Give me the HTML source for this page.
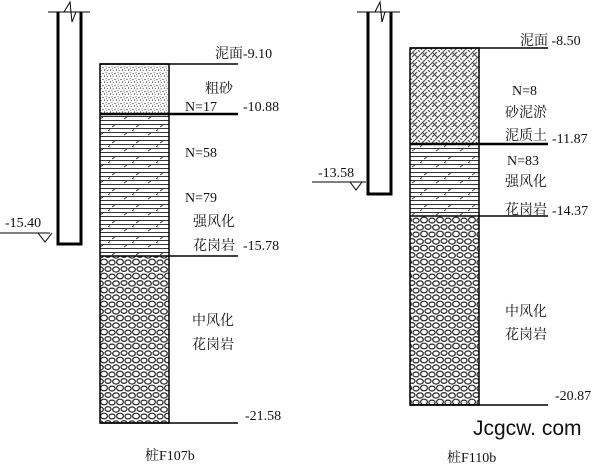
<!DOCTYPE html>
<html><head><meta charset="utf-8"><style>
html,body{margin:0;padding:0;background:#fff}
svg{display:block}
text{font-family:"Liberation Serif","Noto Serif CJK SC",serif;font-size:14px;fill:#111}
</style></head><body>
<svg width="600" height="468" viewBox="0 0 600 468" xmlns="http://www.w3.org/2000/svg">
<defs>
<pattern id="sand" width="6" height="6" patternUnits="userSpaceOnUse">
<rect width="6" height="6" fill="#fff"/>
<circle cx="1" cy="1.5" r="0.6" fill="#222"/><circle cx="4" cy="0.8" r="0.5" fill="#222"/>
<circle cx="2.5" cy="4" r="0.6" fill="#222"/><circle cx="5.2" cy="4.6" r="0.5" fill="#222"/>
<circle cx="4.5" cy="2.7" r="0.4" fill="#222"/>
</pattern>
<pattern id="lines" width="24" height="16" patternUnits="userSpaceOnUse">
<rect width="24" height="16" fill="#fff"/>
<path d="M0 0.5H24M0 4.5H24M0 8.5H24M0 12.5H24" stroke="#333" stroke-width="1"/>
<path d="M4 7L7 5M16 15L19 13M12 3L14 1.5" stroke="#333" stroke-width="0.8"/>
</pattern>
<pattern id="weave" width="10" height="10" patternUnits="userSpaceOnUse">
<rect width="10" height="10" fill="#fff"/>
<path d="M0 5L5 0M2 7L7 2M5 10L10 5M3 3L8 8M0 8L2 10M8 0L10 2" stroke="#444" stroke-width="1.1"/>
</pattern>
<pattern id="rock" width="16" height="14" patternUnits="userSpaceOnUse">
<rect width="16" height="14" fill="#fff"/>
<g stroke="#222" stroke-width="1.2" fill="#fff">
<ellipse cx="4" cy="3.5" rx="3.3" ry="2.6"/>
<ellipse cx="12" cy="3" rx="3" ry="2.4"/>
<ellipse cx="8" cy="10" rx="3.4" ry="2.8"/>
<ellipse cx="0.5" cy="10.5" rx="2.5" ry="2.4"/>
<ellipse cx="15.5" cy="10.5" rx="2.5" ry="2.4"/>
</g>
</pattern>
</defs>

<g stroke="#000" fill="none">
<path d="M48 12H90" stroke-width="1"/>
<path d="M58 12V244H81V12" stroke-width="3"/>
<path d="M64 12L70 2L72 22L76 12" stroke-width="1"/>
<path d="M0 233H50" stroke-width="1"/>
<path d="M38 233L45 242L52 233" stroke-width="1"/>
</g>
<text x="5" y="227">-15.40</text>

<rect x="100" y="64" width="69" height="50" fill="url(#sand)"/>
<rect x="100" y="114" width="69" height="142" fill="url(#lines)"/>
<rect x="100" y="256" width="69" height="167" fill="url(#rock)"/>
<g stroke="#000" fill="none">
<rect x="100" y="64" width="69" height="359" stroke-width="1.5"/>
<path d="M100 64H238" stroke-width="1.5"/>
<path d="M100 114H238" stroke-width="2.5"/>
<path d="M100 256H238" stroke-width="1.5"/>
<path d="M100 423H238" stroke-width="1.5"/>
</g>
<text x="215" y="58">泥面-9.10</text>
<text x="205" y="93">粗砂</text>
<text x="185" y="111">N=17</text>
<text x="243" y="111">-10.88</text>
<text x="185" y="157">N=58</text>
<text x="185" y="202">N=79</text>
<text x="193" y="226">强风化</text>
<text x="193" y="250">花岗岩</text>
<text x="243" y="250">-15.78</text>
<text x="192" y="325">中风化</text>
<text x="192" y="349">花岗岩</text>
<text x="245" y="420">-21.58</text>
<text x="145" y="460">桩F107b</text>

<g stroke="#000" fill="none">
<path d="M357 12H400" stroke-width="1"/>
<path d="M368 12V194H391V12" stroke-width="3"/>
<path d="M375 12L380 2L382 22L385 12" stroke-width="1"/>
<path d="M312 182H366" stroke-width="1"/>
<path d="M350 182L356 190L362 182" stroke-width="1"/>
</g>
<text x="318" y="177">-13.58</text>

<rect x="410" y="48" width="69" height="96" fill="url(#weave)"/>
<rect x="410" y="144" width="69" height="72" fill="url(#lines)"/>
<rect x="410" y="216" width="69" height="189" fill="url(#rock)"/>
<g stroke="#000" fill="none">
<rect x="410" y="48" width="69" height="357" stroke-width="1.5"/>
<path d="M410 48H548" stroke-width="1.5"/>
<path d="M410 144H548" stroke-width="2.5"/>
<path d="M410 216H548" stroke-width="1.5"/>
<path d="M410 405H548" stroke-width="1.5"/>
</g>
<text x="520" y="45">泥面 -8.50</text>
<text x="512" y="95">N=8</text>
<text x="505" y="117">砂泥淤</text>
<text x="505" y="140">泥质土</text>
<text x="552" y="143">-11.87</text>
<text x="507" y="165">N=83</text>
<text x="505" y="186">强风化</text>
<text x="505" y="214">花岗岩</text>
<text x="552" y="215">-14.37</text>
<text x="505" y="316">中风化</text>
<text x="505" y="339">花岗岩</text>
<text x="555" y="400">-20.87</text>
<text x="473" y="435" style="font-family:'Liberation Sans',sans-serif;font-size:21px">Jcgcw. com</text>
<text x="447" y="462">桩F110b</text>
</svg>
</body></html>
